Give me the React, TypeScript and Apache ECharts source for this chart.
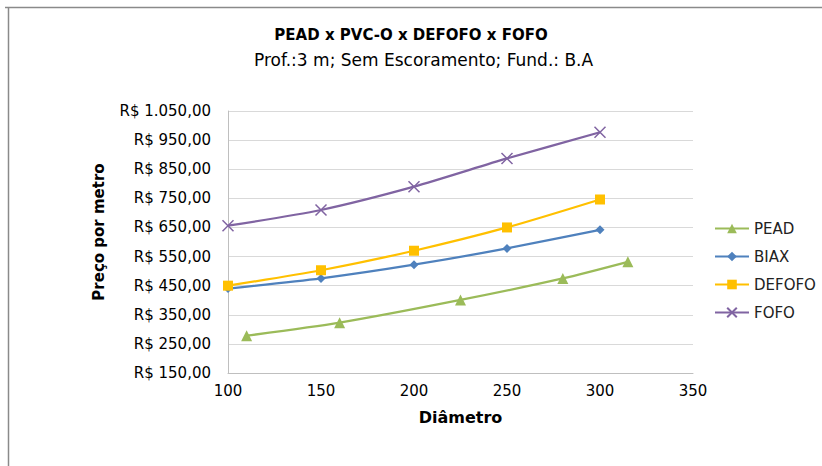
import React, { useEffect, useRef } from "react";
import * as echarts from "echarts";

const title = "PEAD x PVC-O x DEFOFO x FOFO";
const subtitle = "Prof.:3 m; Sem Escoramento; Fund.: B.A";
const xName = "Diâmetro";
const yName = "Preço por metro";

const peadX = [110, 160, 225, 280, 315];
const peadY = [278, 323, 401, 475, 532];
const biaxX = [100, 150, 200, 250, 300];
const biaxY = [440, 475, 522, 578, 642];
const defofoX = [100, 150, 200, 250, 300];
const defofoY = [450, 503, 570, 650, 746];
const fofoX = [100, 150, 200, 250, 300];
const fofoY = [656, 710, 790, 887, 977];

const seriesNames = ["PEAD", "BIAX", "DEFOFO", "FOFO"];
const seriesColors = ["#9BBB59", "#4F81BD", "#FFC000", "#8064A2"];

const fmtBRL = (v: number) => {
  const intPart = Math.floor(v);
  const s = String(intPart).replace(/\B(?=(\d{3})+(?!\d))/g, ".");
  return "R$ " + s + ",00";
};

const pairs = (xs: number[], ys: number[]) => xs.map((x, i) => [x, ys[i]]);

export default function App() {
  const ref = useRef<HTMLDivElement>(null);
  useEffect(() => {
    if (!ref.current) return;
    const chart = echarts.init(ref.current, null, { renderer: "svg" });
    const font = "'DejaVu Sans', Verdana, sans-serif";
    const symbols = ["triangle", "diamond", "rect", "path://M0,0L10,10M10,0L0,10"];
    const sizes = [11, 9, 10, 11];
    const datas = [pairs(peadX, peadY), pairs(biaxX, biaxY), pairs(defofoX, defofoY), pairs(fofoX, fofoY)];
    chart.setOption({
      animation: false,
      backgroundColor: "#fff",
      textStyle: { fontFamily: font },
      title: [
        {
          text: title,
          left: "center",
          top: 22,
          textStyle: { fontSize: 15, fontWeight: "bold", color: "#000", fontFamily: font },
        },
        {
          text: subtitle,
          left: 249,
          top: 46,
          textStyle: { fontSize: 17, fontWeight: "normal", color: "#000", fontFamily: font },
        },
      ],
      graphic: [
        { type: "line", shape: { x1: 5, y1: 7.5, x2: 822, y2: 7.5 }, style: { stroke: "#8a8a8a", lineWidth: 1.5 } },
        { type: "line", shape: { x1: 8.5, y1: 7, x2: 8.5, y2: 466 }, style: { stroke: "#8a8a8a", lineWidth: 1.5 } },
      ],
      legend: {
        orient: "vertical",
        left: 709,
        top: 216,
        itemWidth: 34,
        itemHeight: 12,
        itemGap: 13,
        data: seriesNames,
        textStyle: { fontSize: 15, color: "#222", fontFamily: font },
      },
      grid: { left: 228, right: 129, top: 111, bottom: 93, containLabel: false },
      xAxis: {
        type: "value",
        min: 100,
        max: 350,
        interval: 50,
        name: xName,
        nameLocation: "middle",
        nameGap: 36,
        nameTextStyle: { fontSize: 16, fontWeight: "bold", color: "#000" },
        axisLine: { show: true, lineStyle: { color: "#bfbfbf" } },
        axisTick: { show: false },
        splitLine: { show: false },
        axisLabel: { fontSize: 15, color: "#000", margin: 10 },
      },
      yAxis: {
        type: "value",
        min: 150,
        max: 1050,
        interval: 100,
        name: yName,
        nameLocation: "middle",
        nameGap: 122,
        nameTextStyle: { fontSize: 15, fontWeight: "bold", color: "#000", padding: [0, 0, 0, 20] },
        axisLine: { show: true, lineStyle: { color: "#bfbfbf" } },
        axisTick: { show: false },
        splitLine: { show: true, lineStyle: { color: "#d9d9d9", width: 1 } },
        axisLabel: { fontSize: 15, color: "#000", margin: 17, formatter: (v: number) => fmtBRL(v) },
      },
      series: seriesNames.map((name, i) => ({
        name,
        type: "line",
        data: datas[i],
        smooth: 0.25,
        symbol: symbols[i],
        symbolSize: sizes[i],
        showAllSymbol: true,
        lineStyle: { color: seriesColors[i], width: 2.25 },
        itemStyle: {
          color: seriesColors[i],
          borderColor: seriesColors[i],
          borderWidth: i === 3 ? 1.5 : 0,
        },
        z: 2 + i,
      })),
    });
    return () => chart.dispose();
  }, []);
  return (
    <div
      ref={ref}
      style={{ position: "absolute", left: 0, top: 0, width: 822, height: 466 }}
    />
  );
}
